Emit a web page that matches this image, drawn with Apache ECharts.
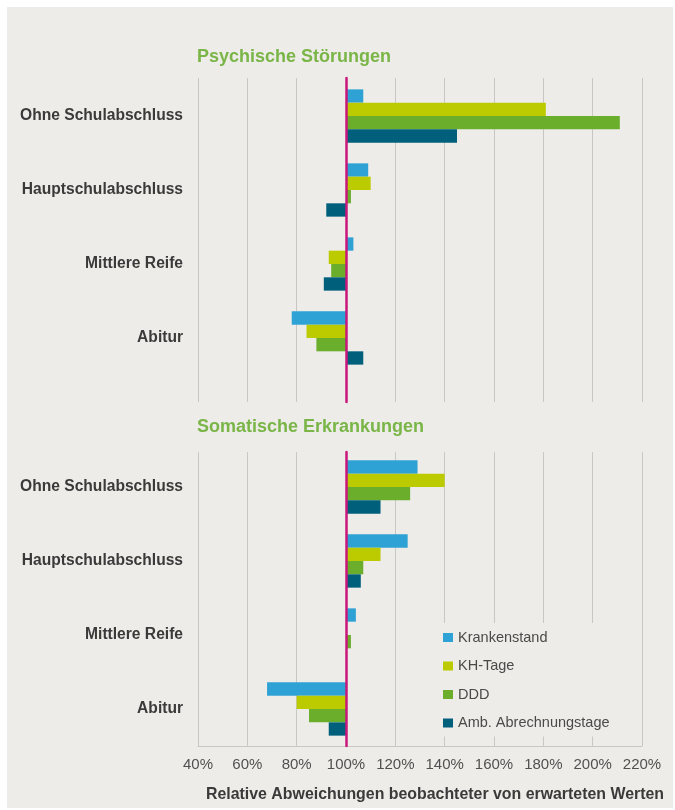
<!DOCTYPE html>
<html>
<head>
<meta charset="utf-8">
<script src="https://cdn.jsdelivr.net/npm/echarts@6/dist/echarts.min.js"></script>
<style>
  html, body { margin: 0; padding: 0; background: #fff; }
  #bg { position: absolute; left: 7px; top: 7px; width: 666px; height: 801px; background: #eeece8; }
  #main { position: absolute; left: 0; top: 0; width: 675px; height: 810px; }
</style>
</head>
<body>
<div id="bg"></div>
<div id="main"></div>
<script>
// Kategorien und Werte (in % des erwarteten Wertes, 100 % = erwartet)
const categories = ['Ohne Schulabschluss', 'Hauptschulabschluss', 'Mittlere Reife', 'Abitur'];
const seriesNames = ['Krankenstand', 'KH-Tage', 'DDD', 'Amb. Abrechnungstage'];
const colors = ['#2ea2d4', '#bccb00', '#6aae2c', '#00607c'];

const psychKrankenstand = [107, 109, 103, 78];
const psychKhTage = [181, 110, 93, 84];
const psychDdd = [211, 102, 94, 88];
const psychAmb = [145, 92, 91, 107];

const somaKrankenstand = [129, 125, 104, 68];
const somaKhTage = [140, 114, 100, 80];
const somaDdd = [126, 107, 102, 85];
const somaAmb = [114, 106, 100, 93];

const tickLabels = [40, 60, 80, 100, 120, 140, 160, 180, 200, 220];
const baseline = 100;

const bgColor = '#eeece8';
const gridColor = '#c9c7c3';
const magenta = '#c8177b';
const font = 'Liberation Sans, Arial, sans-serif';

const myChart = echarts.init(document.getElementById('main'));

// Achse relativ zur Basislinie 100 %
const axMin = tickLabels[0] - baseline;
const axMax = tickLabels[tickLabels.length - 1] - baseline;

function bgX(gridIndex, showLabels) {
    return {
        type: 'value', gridIndex: gridIndex, min: axMin, max: axMax, interval: 20,
        axisLine: { show: showLabels, lineStyle: { color: gridColor, width: 1 } },
        axisTick: { show: false },
        axisLabel: {
            show: showLabels, margin: 11, color: '#505050', fontSize: 15, fontFamily: font,
            formatter: (v) => (v + baseline) + '%'
        },
        splitLine: { show: true, lineStyle: { color: gridColor, width: 1 } }
    };
}
function barX(gridIndex) {
    return {
        type: 'value', gridIndex: gridIndex, min: axMin, max: axMax, interval: 20,
        axisLine: { show: false }, axisTick: { show: false },
        axisLabel: { show: false }, splitLine: { show: false }
    };
}
function bgY(gridIndex) {
    return {
        type: 'value', gridIndex: gridIndex, min: 0, max: 1, z: 10,
        axisLine: { show: true, onZero: true, lineStyle: { color: magenta, width: 2.5 } },
        axisTick: { show: false }, axisLabel: { show: false }, splitLine: { show: false }
    };
}
function catY(gridIndex) {
    return {
        type: 'category', gridIndex: gridIndex, data: categories, inverse: true,
        axisLine: { show: false }, axisTick: { show: false },
        axisLabel: { margin: 15, color: '#3a3a3a', fontSize: 15.6, fontWeight: 'bold', fontFamily: font }
    };
}
function bars(values, idx, axisIndex) {
    return {
        name: seriesNames[idx], type: 'bar',
        xAxisIndex: axisIndex, yAxisIndex: axisIndex,
        data: values.map(v => v - baseline),
        itemStyle: { color: colors[idx] },
        barGap: '0%', barCategoryGap: '28%'
    };
}

myChart.setOption({
    animation: false,
    backgroundColor: 'transparent',
    title: [
        { text: 'Psychische Störungen', left: 197, top: 48, padding: 0,
          textStyle: { color: '#7ab548', fontSize: 18, fontWeight: 'bold', fontFamily: font, lineHeight: 18 } },
        { text: 'Somatische Erkrankungen', left: 197, top: 418, padding: 0,
          textStyle: { color: '#7ab548', fontSize: 18, fontWeight: 'bold', fontFamily: font, lineHeight: 18 } },
        { text: 'Relative Abweichungen beobachteter von erwarteten Werten', left: 206, top: 787, padding: 0,
          textStyle: { color: '#3a3a3a', fontSize: 15.9, fontWeight: 'bold', fontFamily: font, lineHeight: 16 } }
    ],
    legend: {
        data: seriesNames, orient: 'vertical', left: 431, top: 623,
        padding: [7, 15, 6, 12], itemGap: 13.5, itemWidth: 10, itemHeight: 9, icon: 'rect',
        backgroundColor: bgColor,
        textStyle: { color: '#4a4a4a', fontSize: 14.5, fontFamily: font, lineHeight: 15 }
    },
    grid: [
        { left: 198, width: 444, top: 78, height: 324 },   // Hintergrund oben
        { left: 198, width: 444, top: 79, height: 296 },   // Balken oben
        { left: 198, width: 444, top: 452, height: 294 },  // Hintergrund unten
        { left: 198, width: 444, top: 450, height: 296 }   // Balken unten
    ],
    xAxis: [bgX(0, false), barX(1), bgX(2, true), barX(3)],
    yAxis: [bgY(0), catY(1), bgY(2), catY(3)],
    series: [
        bars(psychKrankenstand, 0, 1),
        bars(psychKhTage, 1, 1),
        bars(psychDdd, 2, 1),
        bars(psychAmb, 3, 1),
        bars(somaKrankenstand, 0, 3),
        bars(somaKhTage, 1, 3),
        bars(somaDdd, 2, 3),
        bars(somaAmb, 3, 3)
    ]
});
</script>
</body>
</html>
